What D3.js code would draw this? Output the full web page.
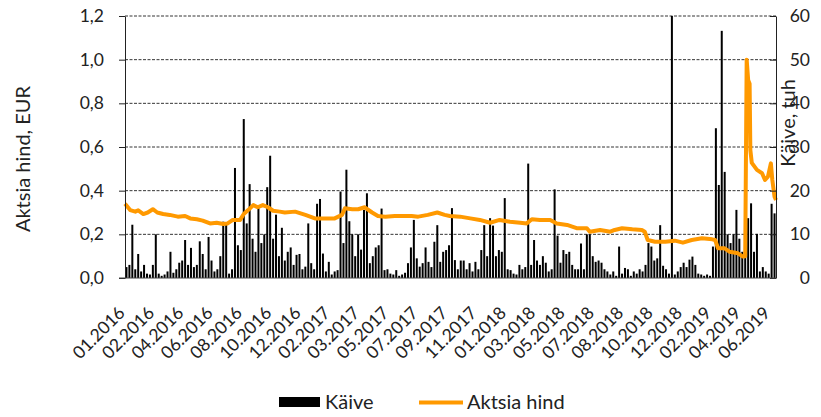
<!DOCTYPE html>
<html>
<head>
<meta charset="utf-8">
<script src="https://cdn.jsdelivr.net/npm/d3@7"></script>
<style>
  body { margin: 0; background: #fff; }
  svg text { font-family: Lato, "Open Sans", sans-serif; font-size: 17.5px; fill: #222; }
  svg text.big { font-size: 20px; }
</style>
</head>
<body>
<script>
// x axis labels, one every 40 trading days
const monthLabels = ["01.2016", "02.2016", "04.2016", "06.2016", "08.2016", "10.2016", "12.2016",
  "02.2017", "03.2017", "05.2017", "07.2017", "09.2017", "11.2017", "01.2018", "03.2018",
  "05.2018", "07.2018", "08.2018", "10.2018", "12.2018", "02.2019", "04.2019", "06.2019"];
const labelStep = 40;
const totalDays = 888;
const binDays = 4;

// turnover (Käive, tuh), one value per 4 trading days
const kaive = [
  2.5, 3, 12.2, 2, 5.5, 1.5, 3, 1, 0.8, 3,
  10, 1, 0.5, 0.8, 1.5, 6, 1.2, 2, 3.5, 4,
  8.7, 3, 6.9, 2.5, 3, 8.4, 5.5, 2, 9.4, 4,
  1.5, 2, 5, 12.9, 12.3, 1, 2, 25.2, 7.5, 6.4,
  36.4, 12.5, 21.5, 9, 6, 16, 8, 10, 20.8, 28,
  9, 14.5, 5, 11.5, 4, 6, 7, 3, 5.3, 5.5,
  2, 2.6, 12.5, 3.4, 2, 17, 18.1, 5.6, 1.5, 3.7,
  0.8, 1.5, 1.8, 19.8, 8, 24.8, 13, 10, 5, 10,
  6.5, 15.6, 19.4, 3.4, 5, 7, 7.5, 15.9, 1.8, 2,
  1, 0.8, 1.8, 0.5, 0.8, 1.2, 3.4, 7, 13.3, 4.5,
  2.6, 3.4, 7, 3.7, 2.5, 8.3, 12.1, 3.7, 6, 6.4,
  7.5, 16, 4.1, 2, 4, 4, 2, 3.4, 1.5, 3.7,
  2, 6.4, 12.1, 5, 13.7, 12, 5, 6.4, 6, 18.3,
  2, 1.8, 1, 0.8, 3, 2, 2.5, 26.2, 3, 8.7,
  4, 3, 5, 3.5, 1.5, 2, 20.3, 9.7, 3.5, 6.4,
  5.5, 6, 3, 2, 2, 7.9, 2, 10, 10, 5,
  3.7, 4, 3.5, 2, 1.5, 0.8, 1.5, 0.5, 7.2, 1,
  2.3, 2, 0.5, 1.5, 1, 2, 1.5, 3, 8, 7.2,
  4, 4.5, 12.1, 2.8, 2, 1, 60, 0.8, 1.5, 2.5,
  3.5, 2.5, 4.2, 4.9, 3, 1, 0.8, 0.5, 0.8, 0.5,
  7.2, 34.3, 21.3, 56.6, 24.3, 10, 8, 10, 15.6, 9,
  6, 5, 13.7, 17.1, 6, 10.1, 1.5, 2.5, 1.5, 1,
  17, 14.8
];

// share price (Aktsia hind, EUR): trading day and value
const priceDay = [0, 7, 14, 18, 25, 31, 38, 44, 52, 61, 72, 82, 89, 98, 106, 116, 125, 134, 140, 147,
  157, 162, 168, 175, 181, 188, 195, 202, 211, 218, 232, 246, 259, 273, 286, 296, 300, 310, 318, 327,
  337, 345, 355, 368, 382, 391, 400, 413, 426, 436, 443, 457, 471, 484, 498, 511, 525, 539, 548, 555,
  566, 580, 589, 603, 616, 630, 634, 648, 662, 668, 678, 692, 705, 709, 713, 723, 737, 750, 761, 773,
  787, 801, 805, 809, 818, 825, 836, 843, 846, 848, 850, 852, 853, 855, 862, 869, 873, 877, 881, 883,
  886, 888];
const priceVal = [0.34, 0.311, 0.304, 0.31, 0.293, 0.30, 0.315, 0.30, 0.293, 0.289, 0.281, 0.284, 0.273, 0.269, 0.263, 0.25, 0.253, 0.247, 0.25, 0.266,
  0.266, 0.293, 0.311, 0.334, 0.324, 0.334, 0.324, 0.308, 0.304, 0.30, 0.304, 0.289, 0.273, 0.273, 0.273, 0.289, 0.319, 0.315, 0.315, 0.324,
  0.30, 0.284, 0.281, 0.284, 0.284, 0.284, 0.281, 0.289, 0.30, 0.289, 0.284, 0.281, 0.273, 0.266, 0.253, 0.266, 0.258, 0.253, 0.25, 0.269,
  0.266, 0.266, 0.25, 0.243, 0.228, 0.228, 0.212, 0.22, 0.212, 0.22, 0.228, 0.223, 0.22, 0.212, 0.174, 0.166, 0.166, 0.171, 0.162, 0.174,
  0.182, 0.177, 0.174, 0.136, 0.136, 0.12, 0.113, 0.098, 0.10, 1.0, 0.907, 0.89, 0.586, 0.527, 0.495, 0.48, 0.449, 0.464, 0.525, 0.449,
  0.372, 0.357];

const leftTicks = [0, 0.2, 0.4, 0.6, 0.8, 1.0, 1.2];
const rightTicks = [0, 10, 20, 30, 40, 50, 60];

(function() {
  const plot = {left: 125, right: 776, top: 16, bottom: 278};
  const svg = d3.select("body").append("svg")
    .attr("width", 821)
    .attr("height", 417);

  const x = d3.scaleLinear().domain([0, totalDays]).range([plot.left, plot.right]);
  const yL = d3.scaleLinear().domain([0, 1.2]).range([plot.bottom, plot.top]);
  const yR = d3.scaleLinear().domain([0, 60]).range([plot.bottom, plot.top]);
  const comma = d3.formatLocale({decimal: ",", thousands: " ", grouping: [3], currency: ["", ""]}).format(".1f");

  // dashed gridlines
  svg.append("g").selectAll("line")
    .data(leftTicks.filter(d => d > 0))
    .enter()
    .append("line")
      .attr("x1", plot.left)
      .attr("x2", plot.right)
      .attr("y1", d => yL(d))
      .attr("y2", d => yL(d))
      .attr("stroke", "#000")
      .attr("stroke-width", 0.8)
      .attr("stroke-dasharray", "3,1.5");

  // turnover bars
  svg.append("g").selectAll("rect")
    .data(kaive)
    .enter()
    .append("rect")
      .attr("x", (d, i) => x(i * binDays + binDays / 2) - 1)
      .attr("width", 2)
      .attr("y", d => yR(d))
      .attr("height", d => plot.bottom - yR(d))
      .attr("fill", "#000");

  // price line
  let line = d3.line()
    .x((d, i) => x(priceDay[i]))
    .y(d => yL(d));
  svg.append("path")
    .datum(priceVal)
    .attr("d", line)
    .attr("fill", "none")
    .attr("stroke", "#ff9900")
    .attr("stroke-width", 4)
    .attr("stroke-linejoin", "round");

  // left axis
  let gl = svg.append("g")
    .attr("transform", "translate(" + plot.left + ",0)")
    .call(d3.axisLeft(yL).tickValues(leftTicks).tickFormat(comma).tickSize(6).tickSizeOuter(0).tickPadding(15));
  gl.selectAll("line, path").attr("stroke", "#222");

  // right axis
  let gr = svg.append("g")
    .attr("transform", "translate(" + plot.right + ",0)")
    .call(d3.axisRight(yR).tickValues(rightTicks).tickSize(-6).tickSizeOuter(0));
  gr.selectAll("line, path").attr("stroke", "#222");
  gr.selectAll("text").attr("text-anchor", "end").attr("x", 34);

  // bottom axis line
  svg.append("line")
    .attr("x1", plot.left - 6)
    .attr("x2", plot.right)
    .attr("y1", plot.bottom)
    .attr("y2", plot.bottom)
    .attr("stroke", "#444");

  // x labels
  svg.append("g").selectAll("text")
    .data(monthLabels)
    .enter()
    .append("text")
      .attr("text-anchor", "end")
      .attr("transform", (d, i) => "translate(" + (x(i * labelStep) + 1) + "," + 314 + ")rotate(-45)")
      .text(d => d);

  // axis titles
  svg.append("text")
    .attr("class", "big")
    .attr("text-anchor", "middle")
    .attr("transform", "translate(30,159)rotate(-90)")
    .text("Aktsia hind, EUR");
  svg.append("text")
    .attr("class", "big")
    .attr("text-anchor", "middle")
    .attr("transform", "translate(795,123)rotate(-90)")
    .text("Käive, tuh");

  // legend
  svg.append("rect")
    .attr("x", 279).attr("y", 397)
    .attr("width", 41).attr("height", 10)
    .attr("fill", "#000");
  svg.append("text").attr("class", "big").attr("x", 325).attr("y", 409).text("Käive");
  svg.append("line")
    .attr("x1", 419).attr("x2", 463)
    .attr("y1", 402.5).attr("y2", 402.5)
    .attr("stroke", "#ff9900")
    .attr("stroke-width", 4);
  svg.append("text").attr("class", "big").attr("x", 467).attr("y", 409).text("Aktsia hind");
})();
</script>
</body>
</html>
